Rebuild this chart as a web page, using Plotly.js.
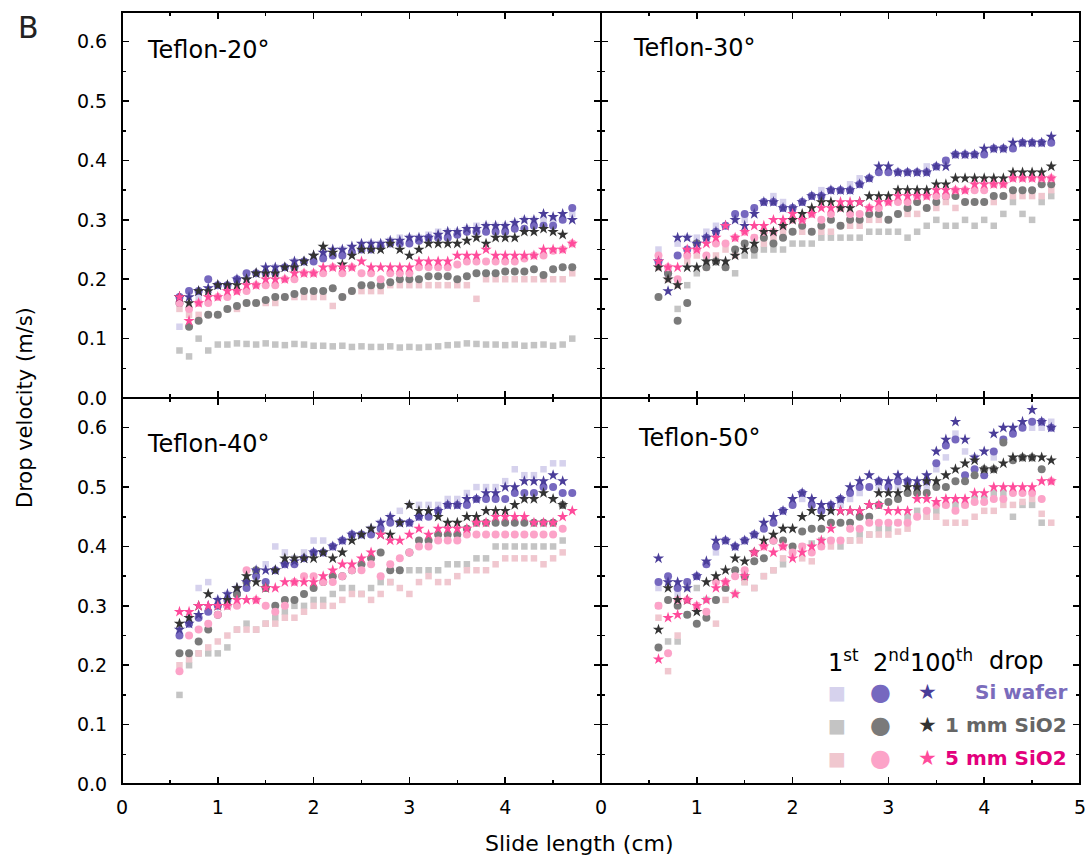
<!DOCTYPE html>
<html>
<head>
<meta charset="utf-8">
<script src="https://cdn.plot.ly/plotly-3.0.1.min.js"></script>
<style>body{margin:0;background:#fff}#chart{width:1087px;height:860px}</style>
</head>
<body>
<div id="chart"></div>
<script>
// ---------- DATA ----------
const slide_cm = [0.6,0.7,0.8,0.9,1.0,1.1,1.2,1.3,1.4,1.5,1.6,1.7,1.8,1.9,2.0,2.1,2.2,2.3,2.4,2.5,2.6,2.7,2.8,2.9,3.0,3.1,3.2,3.3,3.4,3.5,3.6,3.7,3.8,3.9,4.0,4.1,4.2,4.3,4.4,4.5,4.6,4.7];

const panel_titles = ['Teflon-20°','Teflon-30°','Teflon-40°','Teflon-50°'];
const surface_names = ['Si wafer','1 mm SiO2','5 mm SiO2'];
const drop_labels = ['1<sup>st</sup>','2<sup>nd</sup>','100<sup>th</sup>','drop'];
const y_ticks = [0,0.1,0.2,0.3,0.4,0.5,0.6];
const x_ticks_left = [0,1,2,3,4];
const x_ticks_right = [0,1,2,3,4,5];

// Teflon-20
const t20_si_1st   = [.12,.18,.17,.18,.19,.19,.2,.2,.21,.21,.22,.22,.23,.23,.235,.24,.24,.25,.25,.255,.26,.26,.265,.27,.27,.27,.275,.28,.28,.28,.285,.29,.29,.29,.29,.295,.3,.3,.3,.3,.3,.31];
const t20_si_2nd   = [.17,.18,.18,.2,.19,.19,.2,.21,.21,.21,.21,.22,.22,.23,.23,.235,.24,.24,.245,.25,.25,.255,.26,.26,.26,.265,.27,.27,.27,.275,.28,.28,.28,.28,.28,.285,.285,.29,.29,.29,.3,.32];
const t20_si_100th = [.17,.17,.18,.185,.19,.19,.2,.2,.21,.22,.22,.22,.23,.23,.24,.245,.25,.25,.255,.26,.26,.26,.265,.265,.27,.27,.27,.275,.28,.28,.285,.285,.29,.29,.29,.295,.3,.3,.31,.305,.31,.3];
const t20_1mm_1st  = [.08,.07,.1,.08,.09,.09,.092,.091,.09,.092,.09,.089,.091,.09,.088,.088,.087,.088,.086,.087,.086,.086,.087,.085,.086,.085,.086,.087,.089,.09,.092,.091,.09,.09,.089,.09,.088,.089,.09,.088,.09,.1];
const t20_1mm_2nd  = [.16,.12,.13,.14,.14,.15,.155,.16,.16,.165,.17,.17,.175,.18,.18,.18,.185,.17,.18,.19,.19,.19,.195,.2,.2,.2,.205,.205,.205,.2,.205,.21,.21,.21,.213,.213,.213,.217,.207,.217,.22,.22];
const t20_1mm_100th= [.17,.16,.18,.18,.19,.19,.19,.2,.21,.21,.21,.22,.22,.23,.24,.255,.245,.225,.24,.25,.25,.25,.26,.25,.24,.25,.26,.26,.26,.26,.265,.27,.26,.27,.27,.27,.28,.28,.285,.28,.275,null];
const t20_5mm_1st  = [.15,.14,.14,.14,.14,.15,.15,.16,.16,.16,.16,.17,.17,.17,.17,.17,.155,.17,.18,.18,.18,.18,.19,.19,.19,.19,.19,.19,.19,.19,.19,.167,.2,.2,.2,.2,.2,.2,.2,.2,.2,.21];
const t20_5mm_2nd  = [.16,.15,.16,.16,.17,.17,.18,.18,.19,.19,.19,.2,.2,.21,.21,.21,.22,.21,.22,.21,.21,.2,.21,.21,.21,.22,.22,.22,.22,.225,.23,.23,.23,.23,.23,.23,.235,.24,.24,.248,.25,.26];
const t20_5mm_100th= [.17,.13,.16,.17,.17,.18,.18,.19,.19,.2,.2,.2,.21,.21,.21,.22,.22,.22,.22,.23,.22,.22,.22,.22,.22,.23,.23,.23,.23,.24,.24,.24,.25,.24,.24,.24,.24,.24,.25,.25,.25,.26];

// Teflon-30
const t30_si_1st   = [.25,.22,.26,.27,.27,.28,.29,.29,.3,.3,.32,.33,.34,.33,.32,.33,.34,.35,.35,.35,.36,.37,.37,.38,.38,.38,.38,.38,.39,.39,.4,.41,.41,.41,.41,.42,.42,.42,.43,.43,.43,.43];
const t30_si_2nd   = [.23,.21,.24,.25,.26,.27,.28,.29,.31,.31,.32,.33,.33,.32,.32,.33,.34,.34,.35,.35,.35,.36,.37,.38,.38,.38,.38,.38,.38,.39,.4,.41,.41,.41,.41,.42,.42,.42,.43,.43,.43,.43];
const t30_si_100th = [.23,.18,.27,.27,.26,.27,.28,.29,.3,.29,.31,.33,.33,.32,.32,.33,.34,.34,.35,.35,.35,.36,.37,.39,.39,.38,.38,.38,.38,.39,.39,.41,.41,.41,.42,.42,.42,.43,.43,.43,.43,.44];
const t30_1mm_1st  = [.22,.2,.15,.19,.21,.23,.23,.22,.21,.24,.24,.25,.25,.25,.26,.26,.26,.27,.27,.27,.27,.27,.28,.28,.28,.28,.27,.28,.29,.3,.29,.29,.3,.29,.3,.29,.31,.33,.31,.3,.33,.34];
const t30_1mm_2nd  = [.17,.21,.13,.16,.26,.22,.23,.22,.25,.26,.25,.27,.26,.27,.28,.29,.28,.29,.3,.29,.3,.3,.31,.31,.3,.31,.32,.33,.32,.33,.34,.34,.33,.33,.33,.34,.34,.35,.35,.35,.36,.36];
const t30_1mm_100th= [.22,.2,.19,.22,.22,.23,.23,.23,.24,.25,.26,.28,.28,.29,.3,.31,.32,.33,.33,.32,.32,.33,.34,.34,.34,.35,.35,.35,.35,.36,.36,.37,.37,.37,.37,.37,.37,.38,.38,.38,.38,.39];
const t30_5mm_1st  = [.22,.2,.19,.23,.24,.22,.24,.25,.24,.26,.27,.26,.27,.28,.28,.28,.28,.28,.28,.29,.29,.29,.3,.3,.3,.31,.31,.31,.32,.32,.33,.32,.33,.33,.33,.33,.34,.34,.34,.34,.34,.35];
const t30_5mm_2nd  = [.24,.22,.2,.24,.25,.24,.26,.26,.27,.28,.27,.28,.28,.29,.3,.3,.31,.3,.31,.32,.31,.31,.32,.32,.33,.33,.33,.34,.34,.34,.34,.35,.35,.35,.35,.36,.36,.37,.37,.37,.37,.37];
const t30_5mm_100th= [.23,.22,.22,.25,.25,.26,.27,.29,.27,.28,.29,.29,.3,.3,.31,.3,.31,.32,.32,.33,.33,.33,.32,.33,.33,.34,.34,.34,.34,.35,.35,.35,.35,.36,.36,.36,.36,.37,.37,.37,.37,.37];

// Teflon-40
const t40_si_1st   = [.26,.28,.33,.34,.31,.32,.33,.34,.35,.37,.4,.39,.38,.39,.41,.41,.4,.41,.42,.42,.43,.44,.45,.46,.47,.47,.47,.47,.48,.48,.49,.5,.5,.5,.51,.53,.52,.52,.53,.54,.54,null];
const t40_si_2nd   = [.25,.27,.28,.29,.3,.31,.32,.33,.35,.34,.36,.37,.37,.38,.39,.39,.4,.41,.42,.42,.42,.43,.44,.44,.44,.45,.45,.46,.47,.47,.47,.48,.48,.48,.48,.49,.49,.49,.5,.5,.49,.49];
const t40_si_100th = [.26,.27,.285,.3,.31,.32,.33,.34,.36,.36,.36,.37,.375,.38,.39,.39,.4,.41,.42,.42,.43,.44,.45,.44,.44,.45,.46,.46,.47,.47,.48,.48,.49,.49,.5,.5,.51,.51,.51,.52,.51,null];
const t40_1mm_1st  = [.15,.2,.22,.22,.22,.23,.26,.27,.26,.27,.28,.29,.3,.3,.31,.31,.32,.33,.33,.32,.33,.34,.34,.36,.36,.36,.36,.36,.37,.37,.37,.38,.38,.4,.4,.4,.4,.4,.4,.4,.41,null];
const t40_1mm_2nd  = [.22,.22,.24,.26,.285,.3,.32,.34,.36,.33,.3,.31,.31,.32,.33,.34,.35,.35,.36,.37,.38,.39,.36,.36,.39,.41,.41,.42,.42,.42,.43,.44,.44,.44,.44,.44,.44,.44,.44,.44,.47,null];
const t40_1mm_100th= [.27,.28,.3,.32,.3,.31,.33,.35,.34,.33,.36,.38,.38,.38,.38,.39,.38,.39,.41,.42,.43,.42,.42,.44,.47,.46,.46,.45,.44,.44,.45,.45,.46,.46,.46,.47,.48,.48,.49,.48,.47,null];
const t40_5mm_1st  = [.2,.21,.22,.23,.24,.25,.26,.26,.26,.27,.27,.28,.28,.29,.3,.3,.3,.31,.32,.32,.31,.32,.34,.33,.32,.34,.35,.34,.34,.35,.36,.36,.36,.37,.38,.38,.38,.38,.37,.38,.39,null];
const t40_5mm_2nd  = [.19,.25,.26,.27,.285,.3,.3,.36,.31,.3,.29,.3,.34,.35,.35,.34,.34,.35,.36,.36,.37,.35,.37,.38,.39,.4,.4,.41,.41,.41,.42,.42,.42,.42,.42,.42,.42,.42,.42,.42,.43,null];
const t40_5mm_100th= [.29,.29,.3,.3,.3,.3,.31,.31,.31,.33,.33,.34,.34,.34,.34,.35,.36,.37,.37,.38,.39,.42,.41,.41,.42,.43,.42,.43,.43,.43,.43,.44,.44,.45,.45,.45,.45,.44,.44,.44,.45,.46];

// Teflon-50
const t50_si_1st   = [.33,.34,.32,.34,.35,.37,.39,.41,.4,.41,.42,.43,.44,.46,.47,.48,.47,.46,.46,.47,.48,.49,.5,.5,.5,.5,.51,.5,.5,.53,.55,.59,.56,.55,.52,.55,.58,.59,.6,.6,.6,.61];
const t50_si_2nd   = [.34,.35,.33,.34,.35,.37,.4,.41,.4,.41,.42,.43,.44,.46,.47,.49,.47,.46,.47,.48,.49,.5,.5,.51,.5,.51,.51,.5,.51,.54,.57,.58,.52,.53,.52,.56,.58,.59,.6,.61,.61,.6];
const t50_si_100th = [.38,.34,.34,.33,.35,.375,.41,.41,.4,.41,.42,.44,.45,.46,.48,.49,.48,.47,.47,.48,.5,.51,.52,.51,.51,.52,.51,.51,.52,.56,.58,.61,.58,.55,.56,.59,.6,.6,.61,.63,.61,.6];
const t50_1mm_1st  = [.3,.24,.24,.33,.33,.31,.31,.33,.32,.34,.33,.35,.36,.37,.39,.4,.405,.41,.41,.4,.41,.42,.42,.43,.43,.44,.45,.46,.45,.46,.47,.47,.47,.48,.48,.49,.49,.45,.47,.47,.44,null];
const t50_1mm_2nd  = [.23,.31,.3,.285,.27,.28,.31,.33,.36,.35,.375,.38,.41,.41,.4,.425,.43,.43,.44,.44,.44,.45,.45,.47,.475,.48,.49,.49,.49,.5,.5,.51,.51,.52,.53,.53,.575,.545,.55,.55,.53,null];
const t50_1mm_100th= [.26,.33,.31,.31,.29,.34,.35,.36,.38,.375,.39,.41,.42,.43,.43,.45,.46,.45,.46,.46,.46,.46,.47,.49,.49,.49,.5,.5,.51,.51,.52,.53,.54,.545,.53,.53,.54,.55,.55,.55,.55,.545];
const t50_5mm_1st  = [.28,.19,.25,.285,.3,.285,.27,.31,.32,.34,.33,.35,.36,.38,.39,.38,.375,.4,.4,.41,.41,.41,.42,.42,.42,.425,.43,.45,.45,.45,.44,.44,.44,.45,.46,.46,.47,.47,.475,.48,.455,.44];
const t50_5mm_2nd  = [.3,.22,.31,.31,.3,.29,.34,.34,.35,.36,.39,.4,.41,.4,.39,.4,.39,.4,.41,.41,.43,.43,.44,.44,.44,.44,.44,.45,.46,.47,.47,.46,.47,.475,.475,.48,.48,.49,.49,.49,.48,.51];
const t50_5mm_100th= [.21,.28,.285,.31,.3,.31,.33,.34,.32,.35,.39,.4,.39,.4,.38,.39,.4,.41,.43,.46,.46,.46,.47,.47,.46,.46,.46,.48,.48,.475,.48,.48,.48,.49,.49,.5,.5,.5,.5,.5,.51,.51];

// ---------- STYLE ----------
const colors = [ // [1st, 2nd, 100th] per surface
  ['#d6d2ed','#7668bf','#4a3d99'],
  ['#c4c4c4','#7a7a7a','#333333'],
  ['#f0c7cf','#fca3c8','#ff4b9b']
];
const labelColors = ['#7a6cbc','#666666','#e3007d'];
const symbols = ['square','circle','star'];
const sizes = [6.5,8,8.5];
const FONT = 'DejaVu Sans';

const panelData = [
  [[t20_si_1st,t20_si_2nd,t20_si_100th],[t20_1mm_1st,t20_1mm_2nd,t20_1mm_100th],[t20_5mm_1st,t20_5mm_2nd,t20_5mm_100th]],
  [[t30_si_1st,t30_si_2nd,t30_si_100th],[t30_1mm_1st,t30_1mm_2nd,t30_1mm_100th],[t30_5mm_1st,t30_5mm_2nd,t30_5mm_100th]],
  [[t40_si_1st,t40_si_2nd,t40_si_100th],[t40_1mm_1st,t40_1mm_2nd,t40_1mm_100th],[t40_5mm_1st,t40_5mm_2nd,t40_5mm_100th]],
  [[t50_si_1st,t50_si_2nd,t50_si_100th],[t50_1mm_1st,t50_1mm_2nd,t50_1mm_100th],[t50_5mm_1st,t50_5mm_2nd,t50_5mm_100th]]
];
const axesIds = [['x','y'],['x2','y2'],['x3','y3'],['x4','y4']];

const traces = [];
panelData.forEach((pd, p) => {
  for (let d = 0; d < 3; d++) {        // drop order: 1st, 2nd, 100th
    for (let s = 0; s < 3; s++) {      // surface
      traces.push({
        type: 'scatter', mode: 'markers',
        x: slide_cm, y: pd[s][d],
        xaxis: axesIds[p][0], yaxis: axesIds[p][1],
        marker: {symbol: symbols[d], size: sizes[d], color: colors[s][d], line: {width: 0}},
        showlegend: false, hoverinfo: 'skip'
      });
    }
  }
});

// ---------- LAYOUT ----------
const M = {l:122, r:7, t:12, b:76};
const W = 1087, H = 860;
const PW = W - M.l - M.r, PH = H - M.t - M.b;
const px = X => (X - M.l) / PW;
const py = Y => (H - M.b - Y) / PH;

function xAxis(domain, anchor, vals, show) {
  return {
    domain, anchor, range: [0, 5], tickmode: 'array',
    tickvals: vals, ticktext: vals.map(String),
    showticklabels: show,
    ticks: 'inside', ticklen: 7, tickwidth: 1.5, tickcolor: '#000',
    mirror: 'ticks', showline: true, linewidth: 1, linecolor: '#000',
    showgrid: false, zeroline: false, ticklabelstandoff: 6,
    minor: {tickmode: 'linear', tick0: 0, dtick: 0.5, ticks: 'inside', ticklen: 4, tickwidth: 1.5, tickcolor: '#000', showgrid: false},
    tickfont: {family: FONT, size: 19, color: '#000'}, fixedrange: true
  };
}
function yAxis(domain, anchor, show) {
  return {
    domain, anchor, range: [0, 0.65], tickmode: 'array', tickvals: y_ticks,
    ticktext: y_ticks.map(v => v.toFixed(1)), showticklabels: show,
    ticks: 'inside', ticklen: 7, tickwidth: 1.5, tickcolor: '#000',
    mirror: 'ticks', showline: true, linewidth: 1, linecolor: '#000',
    showgrid: false, zeroline: false, ticklabelstandoff: 10,
    minor: {tickmode: 'linear', tick0: 0, dtick: 0.05, ticks: 'inside', ticklen: 4, tickwidth: 1.5, tickcolor: '#000', showgrid: false},
    tickfont: {family: FONT, size: 19, color: '#000'}, fixedrange: true
  };
}

const annotations = [];
function ann(text, X, Y, opts) {
  annotations.push(Object.assign({
    text, xref: 'paper', yref: 'paper', x: px(X), y: py(Y),
    xanchor: 'left', yanchor: 'middle', showarrow: false,
    font: {family: FONT, size: 24, color: '#000'}
  }, opts || {}));
}
// panel titles
ann(panel_titles[0], 145, 50);
ann(panel_titles[1], 631, 48);
ann(panel_titles[2], 145, 444);
ann(panel_titles[3], 636, 438);
// figure letter and axis titles
ann('B', 28, 28, {xanchor: 'center', font: {family: FONT, size: 30, color: '#222'}});
ann('Slide length (cm)', 579, 843, {xanchor: 'center', font: {family: FONT, size: 22, color: '#000'}});
ann('Drop velocity (m/s)', 25, 408, {xanchor: 'center', textangle: -90, font: {family: FONT, size: 21, color: '#000'}});
// legend header
const hdrX = [826, 871, 908, 987];
drop_labels.forEach((t, i) => ann(t, hdrX[i], 661, {font: {family: FONT, size: 24, color: '#000'}}));
// legend rows
const rowY = [692, 725, 758];
const glyphs = ['■','●','★'];
const glyphX = [837, 880, 927];
const glyphSize = [19, 24, 21];
surface_names.forEach((name, s) => {
  for (let d = 0; d < 3; d++) {
    ann(glyphs[d], glyphX[d], rowY[s], {xanchor: 'center', font: {family: FONT, size: glyphSize[d], color: colors[s][d]}});
  }
  ann('<b>' + name + '</b>', 1069, rowY[s], {xanchor: 'right', font: {family: FONT, size: 20, color: labelColors[s]}});
});

const layout = {
  width: W, height: H, margin: M,
  paper_bgcolor: '#fff', plot_bgcolor: 'rgba(0,0,0,0)',
  showlegend: false,
  xaxis:  xAxis([0, 0.5], 'y', x_ticks_right, false),
  yaxis:  yAxis([0.5, 1], 'x', true),
  xaxis2: xAxis([0.5, 1], 'y2', x_ticks_right, false),
  yaxis2: yAxis([0.5, 1], 'x2', false),
  xaxis3: xAxis([0, 0.5], 'y3', x_ticks_left, true),
  yaxis3: yAxis([0, 0.5], 'x3', true),
  xaxis4: xAxis([0.5, 1], 'y4', x_ticks_right, true),
  yaxis4: yAxis([0, 0.5], 'x4', false),
  shapes: [
    {type: 'rect', xref: 'paper', yref: 'paper', x0: 0, x1: 1, y0: 0, y1: 1, line: {width: 2, color: '#000'}, fillcolor: 'rgba(0,0,0,0)'},
    {type: 'line', xref: 'paper', yref: 'paper', x0: 0.5, x1: 0.5, y0: 0, y1: 1, line: {width: 2, color: '#000'}},
    {type: 'line', xref: 'paper', yref: 'paper', x0: 0, x1: 1, y0: 0.5, y1: 0.5, line: {width: 2, color: '#000'}}
  ],
  annotations
};

Plotly.newPlot('chart', traces, layout, {displayModeBar: false, staticPlot: true});
</script>
</body>
</html>
